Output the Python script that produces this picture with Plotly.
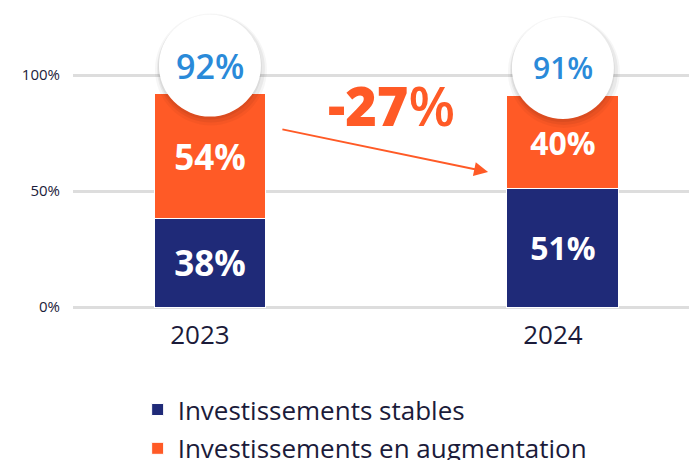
import plotly.graph_objects as go

years = ["2023", "2024"]
stable = [38, 51]
increase = [54, 40]
totals = [92, 91]
change_label = "-27"
series_names = ["Investissements stables", "Investissements en augmentation"]
y_ticks = [0, 50, 100]

NAVY = "#1f2a78"
ORANGE = "#ff5a26"
BLUE = "#2a8ad9"
DARK = "#1b1b3a"
FONT = "Open Sans"

xpos = list(range(len(years)))
label_sizes = [35, 32]

fig = go.Figure()
fig.add_trace(go.Bar(
    x=xpos, y=stable, name=series_names[0], legendgroup="a",
    marker=dict(color=NAVY, line=dict(color="white", width=1)),
    width=0.317, text=[f"{v}%" for v in stable], texttemplate="%{text}",
    textposition="inside", insidetextanchor="middle", textangle=0,
    textfont=dict(color="white", size=label_sizes, family=FONT, weight=700),
    hoverinfo="skip",
))
fig.add_trace(go.Bar(
    x=xpos, y=increase, name=series_names[1], legendgroup="b",
    marker=dict(color=ORANGE, line=dict(color="white", width=1)),
    width=0.317, text=[f"{v}%" for v in increase], texttemplate="%{text}",
    textposition="inside", insidetextanchor="middle", textangle=0,
    textfont=dict(color="white", size=label_sizes, family=FONT, weight=700),
    hoverinfo="skip",
))

shapes = []
annotations = []
for i, t in enumerate(totals):
    # soft shadow
    for r, dx, dy, a in [(56, 1, -4, 0.035), (54, 1, -3, 0.05), (52, 0, -2, 0.06)]:
        shapes.append(dict(
            type="circle", xref="x", yref="y", xsizemode="pixel", ysizemode="pixel",
            xanchor=i, yanchor=t, x0=dx - r, x1=dx + r, y0=28 + dy - r, y1=28 + dy + r,
            fillcolor=f"rgba(0,0,0,{a})", line=dict(width=0), layer="above",
        ))
    shapes.append(dict(
        type="circle", xref="x", yref="y", xsizemode="pixel", ysizemode="pixel",
        xanchor=i, yanchor=t, x0=-51, x1=51, y0=28 - 51, y1=28 + 51,
        fillcolor="white", line=dict(width=0), layer="above",
    ))
    annotations.append(dict(
        x=i, y=t, yshift=28, text=f"{t}%", showarrow=False,
        font=dict(color=BLUE, size=34 if i == 0 else 30, family=FONT, weight=600),
    ))

# arrow
annotations.append(dict(
    x=0.788, y=58.2, ax=0.201, ay=76.7, axref="x", ayref="y",
    xref="x", yref="y", text="", showarrow=True,
    arrowcolor=ORANGE, arrowwidth=2, arrowhead=2, arrowsize=1.4,
))
annotations.append(dict(
    x=0.513, y=87.1, xref="x", yref="y", showarrow=False,
    text=change_label + "<span style='font-weight:600'>%</span>",
    font=dict(color=ORANGE, size=54, family=FONT, weight=800),
))

fig.update_layout(
    width=697, height=460,
    margin=dict(l=65, r=8, t=2, b=159, autoexpand=False),
    paper_bgcolor="white", plot_bgcolor="white",
    barmode="stack",
    showlegend=True,
    legend=dict(
        orientation="v", xref="container", yref="container",
        x=0.186, y=0.178, xanchor="left", yanchor="top",
        font=dict(size=26, color=DARK, family=FONT),
        traceorder="grouped", tracegroupgap=2,
    ),
    xaxis=dict(
        range=[-0.388, 1.380], tickvals=xpos, ticktext=years,
        showgrid=False, zeroline=False, showline=False, ticks="",
        tickfont=dict(size=26, color=DARK, family=FONT),
        ticklabelshift=-10, ticklabelstandoff=8, automargin=False,
    ),
    yaxis=dict(
        range=[-0.862, 128.02], tickvals=y_ticks,
        ticktext=[f"{v}%" for v in y_ticks],
        showgrid=True, gridcolor="#dddddd", gridwidth=3, zeroline=False,
        showline=False, ticks="",
        tickfont=dict(size=15, color=DARK, family=FONT),
        ticklabelstandoff=12, automargin=False,
    ),
    shapes=shapes,
    annotations=annotations,
    uniformtext=dict(mode=False),
)

fig.write_html("out.html")
